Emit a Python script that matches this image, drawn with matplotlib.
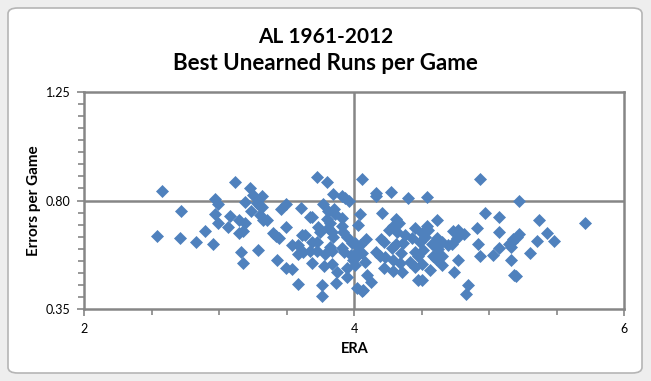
import numpy as np
from matplotlib import pyplot as plt
from matplotlib.patches import FancyBboxPatch
from matplotlib.ticker import MultipleLocator

# ERA and errors per game
era = [2.578, 2.968, 2.988, 2.719, 2.968, 2.993, 2.894, 2.541, 2.709, 2.827, 2.956,
       3.116, 3.227, 3.252, 3.319, 3.190, 3.277, 3.301, 3.319, 3.235, 3.457, 3.494,
       3.079, 3.148, 3.301, 3.321, 3.351, 3.190, 3.067, 3.173, 3.148, 3.395, 3.420,
       3.442, 3.494, 3.161, 3.284, 3.178, 3.430, 3.494,
       3.721, 3.800, 4.055, 3.840, 3.911, 3.931, 3.963, 3.605, 3.770, 3.807, 3.852,
       3.857, 3.672, 3.689, 3.796, 3.911, 3.820, 4.042, 4.030, 3.733, 3.807, 3.907,
       3.746, 3.833, 3.919, 3.610, 3.635, 3.844, 3.944, 3.684, 3.721, 3.536, 3.581,
       3.820, 3.911, 4.005, 4.042, 3.622, 3.672, 3.721, 3.581, 3.783, 3.833, 3.926,
       3.976, 4.018, 4.059, 3.684, 3.778, 3.833, 4.005, 3.541, 3.870, 3.944, 3.944,
       3.581, 3.763, 3.862, 3.763, 4.018, 4.059, 3.981, 4.030, 3.993,
       4.161, 4.161, 4.272, 4.396, 4.541, 4.207, 4.309, 4.333, 4.289, 4.259, 4.314,
       4.376, 4.450, 4.425, 4.536, 4.548, 4.499, 4.524, 4.610, 4.087, 4.196, 4.220,
       4.309, 4.359, 4.487, 4.573, 4.161, 4.191, 4.228, 4.277, 4.346, 4.450, 4.474,
       4.507, 4.581, 4.605, 4.079, 4.284, 4.339, 4.413, 4.499, 4.220, 4.289, 4.351,
       4.450, 4.561, 4.096, 4.121, 4.474, 4.499, 4.062,
       4.931, 4.968, 5.074, 4.907, 5.074, 4.733, 4.766, 4.815, 4.758, 4.647, 4.692,
       4.721, 4.610, 4.914, 5.166, 5.146, 5.074, 4.622, 4.647, 4.766, 4.931, 5.030,
       5.161, 4.647, 4.741, 5.185, 4.844, 4.827,
       5.222, 5.370, 5.709, 5.222, 5.430, 5.203, 5.178, 5.356, 5.481, 5.158, 5.301,
       5.196]
errors = [0.839, 0.808, 0.785, 0.756, 0.745, 0.706, 0.674, 0.652, 0.643, 0.628, 0.620,
          0.877, 0.852, 0.821, 0.818, 0.793, 0.789, 0.779, 0.771, 0.757, 0.766, 0.785,
          0.736, 0.720, 0.740, 0.720, 0.720, 0.706, 0.688, 0.674, 0.664, 0.664, 0.653,
          0.643, 0.688, 0.585, 0.595, 0.539, 0.553, 0.518,
          0.896, 0.879, 0.890, 0.827, 0.820, 0.810, 0.796, 0.768, 0.785, 0.757, 0.765,
          0.743, 0.733, 0.733, 0.722, 0.727, 0.706, 0.743, 0.699, 0.688, 0.685, 0.692,
          0.671, 0.671, 0.671, 0.657, 0.657, 0.650, 0.650, 0.627, 0.629, 0.615, 0.613,
          0.608, 0.604, 0.622, 0.615, 0.585, 0.590, 0.590, 0.577, 0.577, 0.588, 0.585,
          0.574, 0.571, 0.581, 0.539, 0.529, 0.535, 0.532, 0.515, 0.502, 0.483, 0.518,
          0.452, 0.449, 0.456, 0.404, 0.435, 0.424, 0.622, 0.588, 0.553,
          0.833, 0.820, 0.835, 0.810, 0.814, 0.747, 0.722, 0.706, 0.692, 0.678, 0.671,
          0.657, 0.685, 0.646, 0.692, 0.678, 0.664, 0.650, 0.720, 0.640, 0.640, 0.627,
          0.618, 0.622, 0.627, 0.618, 0.585, 0.571, 0.567, 0.604, 0.581, 0.585, 0.571,
          0.595, 0.571, 0.557, 0.543, 0.553, 0.539, 0.543, 0.535, 0.518, 0.507, 0.504,
          0.525, 0.511, 0.490, 0.460, 0.470, 0.470, 0.428,
          0.889, 0.747, 0.733, 0.685, 0.668, 0.674, 0.677, 0.660, 0.646, 0.627, 0.615,
          0.618, 0.646, 0.618, 0.627, 0.618, 0.604, 0.599, 0.571, 0.553, 0.571, 0.574,
          0.553, 0.532, 0.502, 0.490, 0.449, 0.410,
          0.798, 0.718, 0.706, 0.661, 0.664, 0.647, 0.639, 0.631, 0.631, 0.608, 0.581,
          0.488]

x_ticks = [2, 4, 6]
y_ticks = [0.35, 0.80, 1.25]

GRIS = '#868686'
AZUL = '#4f81bd'

plt.rcParams['font.family'] = ['Lato', 'DejaVu Sans']

fig = plt.figure(figsize=(6.51, 3.81), dpi=100, facecolor='#eeeeee')

# marco del grafico (estilo Excel), detras de los ejes
marco = FancyBboxPatch((8/651, 8/381), 634/651, 365/381,
                       boxstyle='round,pad=0,rounding_size=0.015',
                       transform=fig.transFigure, facecolor='white',
                       edgecolor='#b5b5b5', linewidth=1.2, zorder=-5)
fig.patches.append(marco)

ax = fig.add_axes([84.3/651, 1-308.7/381, 540/651, 216.4/381])
ax.set_zorder(2)
ax.patch.set_alpha(0)
ax.set_xlim(2, 6)
ax.set_ylim(0.35, 1.25)

# lineas de cuadricula principales
ax.axvline(4, color=GRIS, linewidth=1.8, zorder=1)
ax.axhline(0.80, color=GRIS, linewidth=1.8, zorder=1)

ax.plot(era, errors, 'D', color=AZUL, markersize=6.2, markeredgewidth=0.5,
        markeredgecolor=AZUL, zorder=3, clip_on=False)

ax.set_xticks(x_ticks)
ax.set_xticklabels([str(t) for t in x_ticks])
ax.set_yticks(y_ticks)
ax.set_yticklabels(['%.2f' % t for t in y_ticks])
ax.xaxis.set_minor_locator(MultipleLocator(0.5))
ax.yaxis.set_minor_locator(MultipleLocator(0.05))
ax.tick_params(which='both', direction='out', color=GRIS, width=1.2,
               labelsize=9, labelcolor='black')
ax.tick_params(which='major', length=5, pad=5)
ax.tick_params(which='minor', length=4)

for lado in ax.spines.values():
    lado.set_color(GRIS)
    lado.set_linewidth(1.8)

ax.set_xlabel('ERA', fontsize=10.5, fontweight='bold', labelpad=5)
ax.set_ylabel('Errors per Game', fontsize=11, fontweight='bold')
ax.yaxis.set_label_coords(-43/540, 0.5)

fig.text(0.5, 1-37/381, 'AL 1961-2012', ha='center', va='center',
         fontsize=15, fontweight='bold')
fig.text(0.5, 1-64/381, 'Best Unearned Runs per Game', ha='center', va='center',
         fontsize=16, fontweight='bold')

plt.savefig('out.png', dpi=100, facecolor=fig.get_facecolor())
